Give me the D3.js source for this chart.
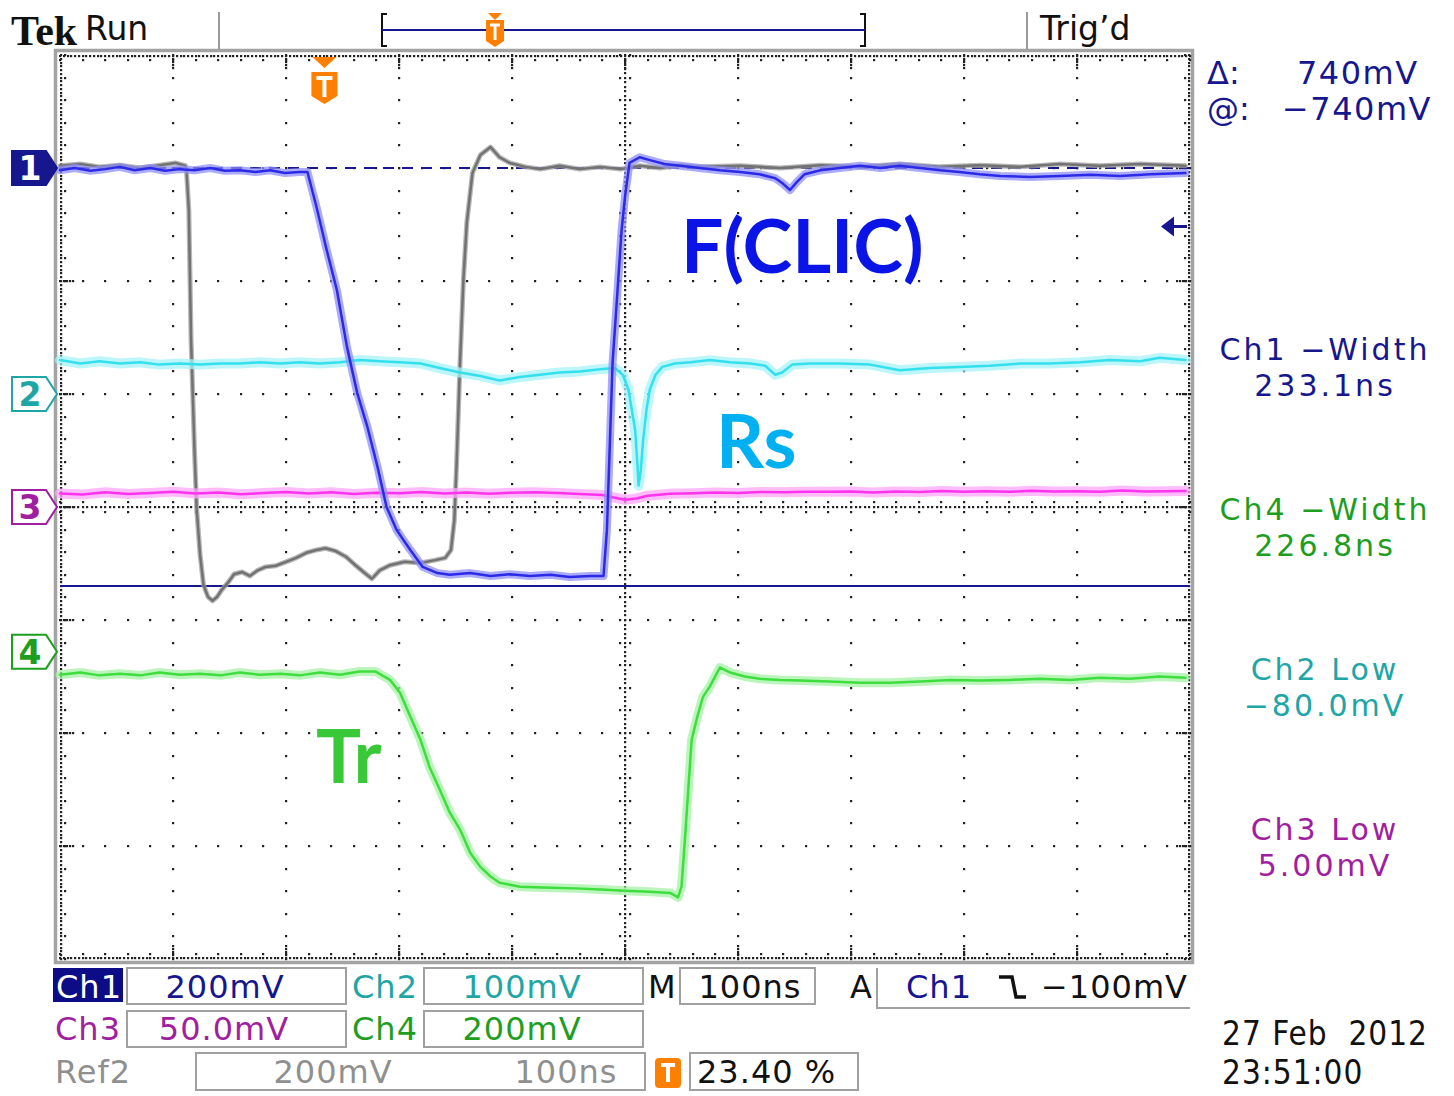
<!DOCTYPE html>
<html>
<head>
<meta charset="utf-8">
<script src="https://cdn.jsdelivr.net/npm/d3@7"></script>
<style>
  body { margin: 0; background: #fff; }
  svg { display: block; }
  text { white-space: pre; }
</style>
</head>
<body>
<div id="scope"></div>
<script>
// record: 10 div x 100 ns, trigger at 23.4 %
const recordLength = 1000;
const triggerPercent = 23.40;

const channelNames = ["Ch1", "Ch2", "Ch3", "Ch4"];
const channelScaleLabels = ["200mV", "100mV", "50.0mV", "200mV"];
const channelScales = [200, 100, 50, 200];       // mV / div
const channelOffsets = [3, 1, 0, -1.28];         // ground marker, div from centre
const ref2Scale = 200, ref2Offset = 3;

const cursorDelta = 740, cursorAt = -740;        // mV on Ch1
const triggerLevel = -100;                       // mV on Ch1

const readoutLabels = ["Ch1 \u2212Width", "Ch4 \u2212Width", "Ch2 Low", "Ch3 Low"];
const readoutValues = ["233.1ns", "226.8ns", "\u221280.0mV", "5.00mV"];

// traces: [time ns from left edge, mV]
const ch1Trace = [[0,-4],[13,0],[27,-5],[40,-2],[53,2],[66,-4],[80,0],[93,-5],[106,-2],[119,-4],
  [133,0],[146,-5],[159,-4],[173,-7],[186,-4],[199,-9],[212,-7],[219,-7],[227,-69],[236,-145],
  [245,-216],[254,-317],[263,-398],[272,-458],[281,-529],[289,-600],[298,-641],[310,-676],
  [321,-706],[334,-717],[345,-720],[363,-717],[381,-722],[398,-719],[416,-722],[434,-720],
  [451,-724],[469,-722],[481,-722],[484,-641],[487,-464],[489,-345],[493,-228],[497,-110],
  [500,-51],[504,9],[513,19],[522,14],[535,7],[549,4],[566,0],[584,-4],[602,-7],[619,-11],
  [633,-18],[640,-28],[646,-39],[652,-25],[659,-11],[673,-4],[690,0],[708,4],[726,0],[743,4],
  [761,0],[779,-4],[796,-7],[814,-11],[832,-14],[858,-16],[885,-14],[912,-12],[938,-14],
  [965,-11],[996,-9]];

const ref2Trace = [[0,4],[18,7],[35,2],[53,5],[71,0],[88,5],[102,9],[111,4],[112,-7],[114,-74],
  [116,-304],[119,-499],[121,-605],[124,-685],[127,-738],[131,-759],[135,-766],[139,-759],
  [143,-747],[149,-733],[154,-719],[161,-715],[168,-722],[175,-712],[182,-706],[191,-704],
  [200,-697],[209,-690],[218,-681],[227,-676],[235,-673],[244,-678],[253,-688],[262,-704],
  [271,-719],[276,-727],[283,-712],[292,-703],[305,-697],[319,-699],[332,-694],[341,-690],
  [346,-676],[349,-623],[351,-522],[354,-345],[357,-198],[360,-97],[365,-9],[372,23],[381,37],
  [389,19],[398,9],[412,2],[425,-2],[442,4],[460,-2],[478,2],[496,-2],[513,4],[531,0],[549,5],
  [566,2],[602,4],[637,0],[673,5],[708,2],[743,7],[779,2],[814,5],[850,2],[885,7],[920,4],
  [956,7],[996,4]];

const ch2Trace = [[0,30],[18,27],[35,29],[53,27],[71,28],[88,26],[106,27],[124,26],[142,27],
  [159,27],[177,28],[195,27],[212,28],[230,27],[248,28],[265,30],[283,29],[301,28],[319,27],
  [336,23],[354,19],[372,16],[389,12],[407,15],[425,17],[442,19],[460,20],[478,22],[491,23],
  [498,17],[503,4],[506,-14],[509,-32],[511,-63],[512,-81],[514,-67],[516,-41],[519,-14],
  [522,4],[527,17],[533,24],[544,27],[558,28],[575,30],[593,28],[611,27],[624,25],[633,17],
  [639,19],[648,26],[664,27],[690,27],[717,26],[743,21],[770,23],[796,24],[823,25],[850,27],
  [876,27],[903,28],[929,30],[956,29],[973,32],[996,30]];

const ch3Trace = [[0,6],[20,5.5],[40,6.5],[60,5.8],[80,6.2],[100,6.8],[120,6],[140,6.4],
  [160,5.6],[180,6.2],[200,6.6],[220,6],[240,6.5],[260,5.8],[280,6.3],[300,6.1],[320,6.6],
  [340,6],[360,6.4],[380,5.9],[400,6.3],[420,6.5],[440,6.2],[460,5.8],[480,5.3],[490,4.2],
  [500,3.2],[510,3.8],[520,5],[540,5.9],[560,6.1],[580,6.4],[600,6.2],[620,6.6],[640,6.5],
  [660,6.8],[680,6.7],[700,6.9],[720,6.4],[740,6.9],[760,6.6],[780,7.1],[800,6.8],[820,7],
  [840,6.7],[860,7.2],[880,6.9],[900,7],[920,6.7],[940,7.3],[960,6.9],[980,7],[996,7.1]];

const ch4Trace = [[0,-41],[18,-37],[35,-42],[53,-39],[71,-42],[88,-37],[106,-41],[124,-39],
  [142,-42],[159,-37],[177,-41],[195,-39],[212,-42],[230,-37],[248,-41],[265,-35],[279,-35],
  [292,-50],[301,-73],[310,-115],[319,-156],[327,-204],[336,-244],[345,-285],[354,-315],
  [363,-356],[372,-381],[381,-398],[389,-409],[407,-416],[434,-418],[456,-419],[478,-421],
  [500,-423],[522,-425],[540,-427],[547,-435],[550,-416],[553,-333],[556,-244],[559,-156],
  [564,-115],[569,-80],[575,-62],[584,-28],[593,-37],[606,-44],[619,-48],[637,-50],[655,-51],
  [681,-53],[708,-55],[735,-55],[761,-53],[788,-50],[814,-51],[841,-50],[867,-48],[894,-50],
  [920,-46],[947,-48],[973,-44],[996,-46]];

const annotationLabels = ["F(CLIC)", "Rs", "Tr"];

const svg = d3.select("#scope").append("svg")
  .attr("width", 1454).attr("height", 1096)
  .style("font-family", "'DejaVu Sans', sans-serif");

const plot = {left: 60, right: 1190, top: 55, bottom: 959};
const x = d3.scaleLinear().domain([0, recordLength]).range([plot.left, plot.right]);
const y = d3.scaleLinear().domain([-4, 4]).range([plot.bottom, plot.top]);
const divX = (plot.right - plot.left) / 10, divY = (plot.bottom - plot.top) / 8;

const navy = "#16168f", teal = "#1ea5a5", purple = "#a01ea0", green = "#1e9e1e";
const orange = "#ff8000";

// ---- frame and graticule
svg.append("rect").attr("x", 55.5).attr("y", 50.5).attr("width", 1137).attr("height", 912)
  .attr("fill", "none").attr("stroke", "#a3a3a3").attr("stroke-width", 3.5);

const dots = [];
for (let i = 1; i < 10; i++) if (i !== 5)
  for (let j = 0; j <= 40; j++) dots.push([plot.left + i * divX, plot.top + j * divY / 5]);
for (let k = 1; k < 8; k++) if (k !== 4)
  for (let j = 0; j <= 50; j++) dots.push([plot.left + j * divX / 5, plot.top + k * divY]);
const cx = x(recordLength / 2), cy = y(0);
for (let j = 0; j <= 200; j++) dots.push([cx, plot.top + j * divY / 25]);
for (let j = 0; j <= 250; j++) dots.push([plot.left + j * divX / 25, cy]);
for (let j = 0; j <= 40; j++) {
  const yy = plot.top + j * divY / 5;
  dots.push([cx - 5, yy], [cx + 5, yy], [plot.left + 5, yy], [plot.right - 5, yy]);
}
for (let j = 0; j <= 50; j++) {
  const xx = plot.left + j * divX / 5;
  dots.push([xx, cy - 5], [xx, cy + 5], [xx, plot.top + 5], [xx, plot.bottom - 5]);
}
for (let j = 0; j <= 300; j++) {
  const xx = plot.left + j * divX / 30;
  dots.push([xx, plot.top + 1], [xx, plot.bottom - 1]);
}
for (let j = 0; j <= 240; j++) {
  const yy = plot.top + j * divY / 30;
  dots.push([plot.left + 1, yy], [plot.right - 1, yy]);
}
for (let i = 1; i < 10; i++) for (let s = 4; s <= 13; s += 3) {
  dots.push([plot.left + i * divX, plot.top + s], [plot.left + i * divX, plot.bottom - s]);
}
for (let k = 1; k < 8; k++) for (let s = 4; s <= 13; s += 3) {
  dots.push([plot.left + s, plot.top + k * divY], [plot.right - s, plot.top + k * divY]);
}
svg.append("g").attr("fill", "#222").selectAll("rect").data(dots).join("rect")
  .attr("x", d => Math.round(d[0]) - 1).attr("y", d => Math.round(d[1]) - 1)
  .attr("width", 2.2).attr("height", 2.2);

// ---- cursors
const ch1y = v => y(channelOffsets[0] + v / channelScales[0]);
svg.append("line").attr("x1", plot.left).attr("x2", plot.right)
  .attr("y1", ch1y(cursorAt)).attr("y2", ch1y(cursorAt))
  .attr("stroke", navy).attr("stroke-width", 2);
svg.append("line").attr("x1", plot.left).attr("x2", plot.right)
  .attr("y1", ch1y(cursorAt + cursorDelta)).attr("y2", ch1y(cursorAt + cursorDelta))
  .attr("stroke", navy).attr("stroke-width", 2).attr("stroke-dasharray", "11 8");

// ---- traces
const traces = svg.append("g").attr("fill", "none")
  .attr("stroke-linejoin", "round").attr("stroke-linecap", "round");

function drawTrace(data, offset, scale, core, halo, coreWidth, haloWidth) {
  const line = d3.line().x(d => x(d[0])).y(d => y(offset + d[1] / scale));
  if (halo) traces.append("path").datum(data).attr("d", line)
    .attr("stroke", halo).attr("stroke-width", haloWidth).attr("opacity", 0.75);
  traces.append("path").datum(data).attr("d", line)
    .attr("stroke", core).attr("stroke-width", coreWidth);
}
drawTrace(ref2Trace, ref2Offset, ref2Scale, "#727272", "#a0a0a0", 2.5, 5);
drawTrace(ch4Trace, channelOffsets[3], channelScales[3], "#3ede3e", "#a4f2a4", 2.5, 9);
drawTrace(ch3Trace, channelOffsets[2], channelScales[2], "#ff33ee", "#ffa6fb", 2.5, 10);
drawTrace(ch2Trace, channelOffsets[1], channelScales[1], "#33e0ee", "#a6f2f8", 2.5, 10);
drawTrace(ch1Trace, channelOffsets[0], channelScales[0], "#2a2ae8", "#8f8ff6", 2.5, 8);

// ---- channel ground markers
const markerColors = [navy, teal, purple, green];
channelNames.forEach((n, i) => {
  const my = y(channelOffsets[i]);
  const g = svg.append("g");
  g.append("path")
    .attr("d", `M12,${my - 17}L46,${my - 17}L57,${my}L46,${my + 17}L12,${my + 17}Z`)
    .attr("fill", i === 0 ? navy : "#fff").attr("stroke", markerColors[i]).attr("stroke-width", 2);
  g.append("text").attr("x", 30).attr("y", my + 12).attr("text-anchor", "middle")
    .attr("font-size", 33).attr("font-weight", "bold")
    .attr("fill", i === 0 ? "#fff" : markerColors[i]).text(n.slice(2));
});

// trigger level arrow (Ch1)
const ty = ch1y(triggerLevel) + 2;
svg.append("path").attr("d", `M1161,${ty}L1174,${ty - 10}L1174,${ty + 10}Z`).attr("fill", navy);
svg.append("line").attr("x1", 1172).attr("x2", 1187).attr("y1", ty).attr("y2", ty)
  .attr("stroke", navy).attr("stroke-width", 3);

// trigger position marker
function triggerIcon(px, top) {
  const g = svg.append("g");
  g.append("path").attr("d", `M${px - 12},${top}L${px + 12},${top}L${px},${top + 11}Z`).attr("fill", orange);
  g.append("path")
    .attr("d", `M${px - 13},${top + 15}L${px + 13},${top + 15}L${px + 13},${top + 39}L${px},${top + 47}L${px - 13},${top + 39}Z`)
    .attr("fill", orange);
  g.append("path").attr("d", `M${px - 8},${top + 21}H${px + 8}M${px},${top + 21}V${top + 40}`)
    .attr("stroke", "#fff").attr("stroke-width", 4);
}
const trigX = x(recordLength * triggerPercent / 100);
triggerIcon(trigX, 57);

// ---- header
svg.append("text").attr("x", 11).attr("y", 45).attr("font-family", "'Liberation Serif', serif")
  .attr("font-weight", "bold").attr("font-size", 42).attr("fill", "#111").text("Tek");
svg.append("text").attr("x", 85).attr("y", 40).attr("font-size", 33).attr("fill", "#111").text("Run");
svg.append("text").attr("x", 1040).attr("y", 40).attr("font-size", 33).attr("fill", "#111").text("Trig\u2019d");
[219, 1027].forEach(lx => svg.append("line").attr("x1", lx).attr("x2", lx).attr("y1", 12).attr("y2", 49)
  .attr("stroke", "#9a9a9a").attr("stroke-width", 2));
const bL = 382, bR = 865;
svg.append("path").attr("d", `M${bL + 5},14H${bL}V46H${bL + 5}M${bR - 5},14H${bR}V46H${bR - 5}`)
  .attr("fill", "none").attr("stroke", "#111").attr("stroke-width", 2);
svg.append("line").attr("x1", bL).attr("x2", bR).attr("y1", 30).attr("y2", 30)
  .attr("stroke", navy).attr("stroke-width", 2);
(function () {
  const px = bL + (bR - bL) * triggerPercent / 100;
  svg.append("path").attr("d", `M${px - 7},13L${px + 7},13L${px},20Z`).attr("fill", orange);
  svg.append("path").attr("d", `M${px - 9},20H${px + 9}V41L${px},47L${px - 9},41Z`).attr("fill", orange);
  svg.append("path").attr("d", `M${px - 5},25H${px + 5}M${px},25V40`).attr("stroke", "#fff").attr("stroke-width", 3);
})();

// ---- right panel
svg.append("text").attr("x", 1207).attr("y", 84).attr("font-size", 32).attr("fill", navy).text("\u0394:");
svg.append("text").attr("x", 1297).attr("y", 84).attr("font-size", 32).attr("letter-spacing", 1.5)
  .attr("fill", navy).text(cursorDelta + "mV");
svg.append("text").attr("x", 1207).attr("y", 120).attr("font-size", 32).attr("fill", navy).text("@:");
svg.append("text").attr("x", 1282).attr("y", 120).attr("font-size", 32).attr("letter-spacing", 1.5)
  .attr("fill", navy).text("\u2212" + Math.abs(cursorAt) + "mV");

const readoutColors = [navy, green, teal, purple];
readoutLabels.forEach((lab, i) => {
  const base = 360 + i * 160;
  svg.append("text").attr("x", 1325).attr("y", base).attr("text-anchor", "middle")
    .attr("font-size", 30).attr("letter-spacing", 3).attr("fill", readoutColors[i]).text(lab);
  svg.append("text").attr("x", 1325).attr("y", base + 36).attr("text-anchor", "middle")
    .attr("font-size", 30).attr("letter-spacing", 3).attr("fill", readoutColors[i]).text(readoutValues[i]);
});

// ---- status bar
const boxStroke = "#a0a0a0";
function box(x0, y0, w, h) {
  svg.append("rect").attr("x", x0).attr("y", y0).attr("width", w).attr("height", h)
    .attr("fill", "#fff").attr("stroke", boxStroke).attr("stroke-width", 2);
}
function label(tx, ty, str, color, anchor) {
  svg.append("text").attr("x", tx).attr("y", ty).attr("font-size", 32).attr("letter-spacing", 1)
    .attr("text-anchor", anchor || "start").attr("fill", color).text(str);
}
svg.append("rect").attr("x", 53).attr("y", 968).attr("width", 70).attr("height", 34).attr("fill", "#0c0c86");
label(56, 998, "Ch1", "#fff");
box(127, 968, 219, 36); label(225, 998, channelScaleLabels[0], navy, "middle");
label(352, 998, "Ch2", teal);
box(424, 968, 219, 36); label(522, 998, channelScaleLabels[1], teal, "middle");
label(648, 998, "M", "#111");
box(680, 968, 135, 36); label(750, 998, "100ns", "#111", "middle");
label(850, 998, "A", "#111");
svg.append("path").attr("d", "M877,968V1008H1190").attr("fill", "none").attr("stroke", boxStroke).attr("stroke-width", 2);
label(906, 998, "Ch1", navy);
svg.append("path").attr("d", "M999,977H1012L1016,997H1026").attr("fill", "none")
  .attr("stroke", "#111").attr("stroke-width", 3.5);
label(1188, 998, "\u2212" + Math.abs(triggerLevel) + "mV", "#111", "end");

label(55, 1040, "Ch3", purple);
box(127, 1011, 219, 36); label(224, 1040, channelScaleLabels[2], purple, "middle");
label(352, 1040, "Ch4", green);
box(424, 1011, 219, 36); label(522, 1040, channelScaleLabels[3], green, "middle");

label(55, 1083, "Ref2", "#8f8f8f");
box(196, 1053, 449, 37);
label(333, 1083, ref2Scale + "mV", "#8f8f8f", "middle");
label(566, 1083, "100ns", "#8f8f8f", "middle");
svg.append("rect").attr("x", 655).attr("y", 1058).attr("width", 26).attr("height", 30).attr("rx", 4).attr("fill", orange);
svg.append("path").attr("d", "M661,1065H675M668,1065V1082").attr("stroke", "#fff").attr("stroke-width", 4);
box(690, 1053, 168, 37);
label(697, 1083, triggerPercent.toFixed(2) + " %", "#111");

svg.append("text").attr("x", 1222).attr("y", 1045).attr("font-family", "'DejaVu Sans Condensed', 'DejaVu Sans', sans-serif")
  .attr("font-size", 33).attr("letter-spacing", 1).attr("fill", "#111").text("27 Feb  2012");
svg.append("text").attr("x", 1222).attr("y", 1084).attr("font-family", "'DejaVu Sans Condensed', 'DejaVu Sans', sans-serif")
  .attr("font-size", 33).attr("letter-spacing", 1).attr("fill", "#111").text("23:51:00");

// ---- slide annotations
const annotationColors = ["#0a14e6", "#00b0f0", "#38c838"];
const annotationAnchors = [[681, 273], [716, 468], [316, 783]];
annotationLabels.forEach((t, i) => {
  svg.append("text").attr("x", annotationAnchors[i][0]).attr("y", annotationAnchors[i][1])
    .attr("font-family", "Lato, 'Open Sans', sans-serif").attr("font-weight", "bold")
    .attr("font-size", 75).attr("fill", annotationColors[i]).text(t);
});
</script>
</body>
</html>
